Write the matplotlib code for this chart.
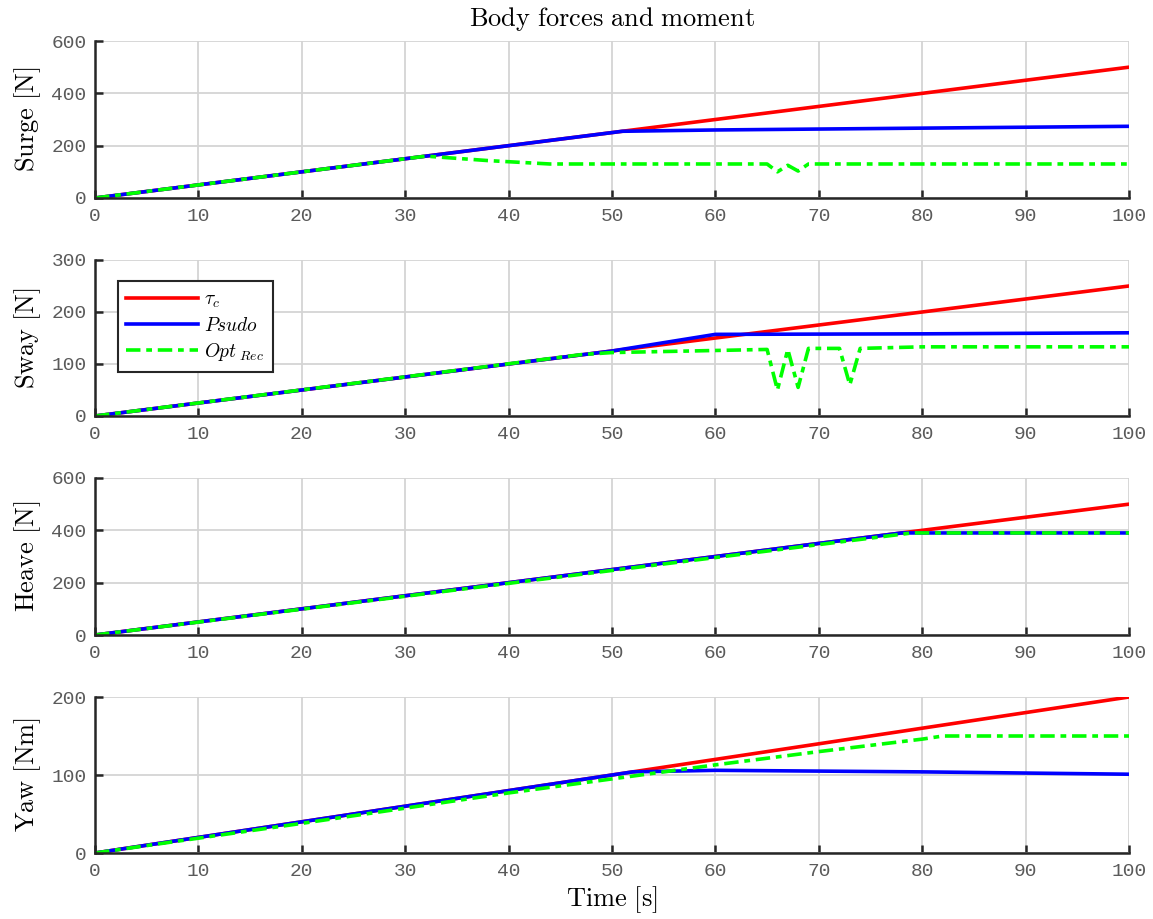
import matplotlib
matplotlib.use("Agg")
import matplotlib.pyplot as plt
import numpy as np

plt.rcParams['mathtext.fontset'] = 'cm'

# time base points (s)
t_lin = [0, 100]

# Surge [N]
surge_tau = [0, 500]
surge_psudo_t = [0, 51, 60, 80, 100]
surge_psudo = [0, 255, 260, 267, 274]
surge_opt_t = [0, 32, 38, 44, 50, 60, 65, 66, 67, 68, 69, 80, 100]
surge_opt = [0, 160, 143, 130, 130, 130, 130, 100, 125, 103, 130, 130, 130]

# Sway [N]
sway_tau = [0, 250]
sway_psudo_t = [0, 50, 60, 80, 100]
sway_psudo = [0, 125, 157, 158, 160]
sway_opt_t = [0, 47, 50, 60, 65, 66, 67, 68, 69, 72, 73, 74, 80, 100]
sway_opt = [0, 118, 122, 126, 128, 50, 128, 55, 130, 130, 60, 130, 133, 133]

# Heave [N]
heave_tau = [0, 500]
heave_psudo_t = [0, 78, 100]
heave_psudo = [0, 390, 390]
heave_opt_t = [0, 60, 79, 100]
heave_opt = [0, 296, 390, 390]

# Yaw [Nm]
yaw_tau = [0, 200]
yaw_psudo_t = [0, 52, 60, 80, 100]
yaw_psudo = [0, 104, 106, 104, 101]
yaw_opt_t = [0, 20, 40, 50, 60, 70, 80, 82, 100]
yaw_opt = [0, 38, 77, 95, 113, 130, 146, 150, 150]

panels = [
    ("Surge [N]", surge_tau, surge_psudo_t, surge_psudo, surge_opt_t, surge_opt, [0, 200, 400, 600]),
    ("Sway [N]", sway_tau, sway_psudo_t, sway_psudo, sway_opt_t, sway_opt, [0, 100, 200, 300]),
    ("Heave [N]", heave_tau, heave_psudo_t, heave_psudo, heave_opt_t, heave_opt, [0, 200, 400, 600]),
    ("Yaw [Nm]", yaw_tau, yaw_psudo_t, yaw_psudo, yaw_opt_t, yaw_opt, [0, 100, 200]),
]

fig = plt.figure(figsize=(11.53, 9.19), dpi=100)
W, H = 1153, 919
tops = [41, 260, 478, 697]
bottoms = [198, 416, 635, 853]
left, right = 95, 1129

axes = []
for i, (lab, tau, pt, pv, ot, ov, yt) in enumerate(panels):
    ax = fig.add_axes([left / W, 1 - bottoms[i] / H, (right - left) / W, (bottoms[i] - tops[i]) / H])
    axes.append(ax)
    ax.plot(t_lin, tau, color=(1, 0, 0), lw=2.6, label=r'$\tau_c$')
    ax.plot(pt, pv, color=(0, 0, 1), lw=2.6, label=r'$Psudo$')
    ax.plot(ot, ov, color=(0, 1, 0), lw=2.6, linestyle=(0, (4, 1.6, 1.6, 1.6)), label=r'$Opt_{\ Rec}$')
    ax.set_xlim(0, 100)
    ax.set_ylim(yt[0], yt[-1])
    ax.set_yticks(yt)
    ax.set_xticks(range(0, 101, 10))
    ax.grid(True, color='#d4d4d4', lw=1.3)
    ax.set_axisbelow(True)
    for s in ['top', 'right']:
        ax.spines[s].set_visible(False)
    for s in ['left', 'bottom']:
        ax.spines[s].set_color('#262626')
        ax.spines[s].set_linewidth(1.8)
    ax.tick_params(direction='in', length=6, width=1.8, color='#262626', labelcolor='#5a5a5a')
    ax.tick_params(axis='x', pad=7)
    ax.tick_params(axis='y', pad=6)
    for tl in ax.get_xticklabels() + ax.get_yticklabels():
        tl.set_fontfamily('Liberation Mono')
        tl.set_fontsize(14)
    ax.set_ylabel(r'$\mathrm{%s}$' % lab.replace(' ', r'\ '), fontsize=19, labelpad=6)

axes[0].set_title(r'$\mathrm{Body\ forces\ and\ moment}$', fontsize=19, pad=11)
axes[-1].set_xlabel(r'$\mathrm{Time\ [s]}$', fontsize=19, labelpad=3)
leg = axes[1].legend(loc='upper left', bbox_to_anchor=(0.022, 0.865), borderaxespad=0, fontsize=14,
                     fancybox=False, edgecolor='#262626', framealpha=1, handlelength=3.7, borderpad=0.45,
                     labelspacing=0.3, handletextpad=0.3)
leg.get_frame().set_linewidth(1.5)

fig.savefig('out.png', dpi=100)
